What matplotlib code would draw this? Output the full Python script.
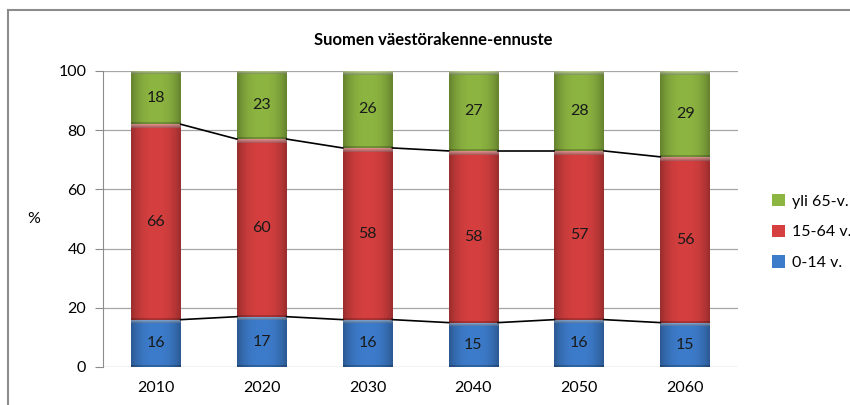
import numpy as np
import matplotlib
matplotlib.use("Agg")
import matplotlib.pyplot as plt
from matplotlib.lines import Line2D
from matplotlib.colors import to_rgb

years = ["2010", "2020", "2030", "2040", "2050", "2060"]
age_0_14 = [16, 17, 16, 15, 16, 15]
age_15_64 = [66, 60, 58, 58, 57, 56]
age_65 = [18, 23, 26, 27, 28, 29]
series_names = ["0-14 v.", "15-64 v.", "yli 65-v."]
colors = ["#3D7CCB", "#D53F3F", "#8DB541"]

plt.rcParams['font.family'] = ['Lato', 'DejaVu Sans']

fig = plt.figure(figsize=(8.5, 4.05), dpi=100)
ax = fig.add_axes([103/850, 1-367/405, (738-103)/850, (367-71)/405])
px_per_unit = (367 - 71) / 100.0

x = np.arange(len(years))
width = 0.47
series = [age_0_14, age_15_64, age_65]
bottoms = np.zeros(len(years))
handles = []
for vals, col, name in zip(series, colors, series_names):
    bars = ax.bar(x, vals, width, bottom=bottoms, color=col, edgecolor="none",
                  label=name, zorder=3)
    handles.append(bars)
    base = np.array(to_rgb(col))
    n = 64
    prof = np.linspace(-1, 1, n)
    shade = 1.0 - 0.28 * np.abs(prof) ** 2.5
    row = np.clip(base[None, :] * shade[:, None], 0, 1)
    for b in bars:
        x0, y0 = b.get_x(), b.get_y()
        w, h = b.get_width(), b.get_height()
        top = min(y0 + h, 100)
        nrows = max(int(round((top - y0) * px_per_unit)), 6)
        img = np.repeat(row[None, :, :], nrows, axis=0)
        img[:4] = np.clip(img[:4] * 0.55 + 0.45 * np.linspace(0.9, 0.5, 4)[:, None, None]
                          + 0.0, 0, 1)
        img[-2:] = img[-2:] * 0.8
        im = ax.imshow(img, extent=[x0, x0 + w, y0, top], aspect="auto",
                       zorder=3.5, interpolation="bilinear")
        im.set_clip_path(b)
    for xi, v, bt in zip(x, vals, bottoms):
        ax.text(xi, bt + min(v, 100 - bt) / 2, str(v), ha="center", va="center",
                fontsize=11.5, color="#1a1a1a", zorder=5)
    bottoms = bottoms + np.array(vals)

# series lines
cum1 = np.array(age_0_14)
cum2 = np.array(age_0_14) + np.array(age_15_64)
for cum in (cum1, cum2):
    for i in range(len(years) - 1):
        ax.plot([x[i] + width / 2, x[i + 1] - width / 2], [cum[i], cum[i + 1]],
                color="black", lw=1.2, zorder=4)

ax.set_xlim(-0.5, len(years) - 0.5)
ax.set_ylim(0, 100)
ax.set_yticks([0, 20, 40, 60, 80, 100])
ax.set_xticks(x)
ax.set_xticklabels(years)
ax.yaxis.grid(True, color="#a6a6a6", lw=0.9, zorder=0)
ax.set_axisbelow(True)
for s in ["top", "right", "bottom"]:
    ax.spines[s].set_visible(False)
ax.spines["left"].set_color("#8c8c8c")
ax.tick_params(axis="y", length=6, color="#8c8c8c", labelsize=11.5, pad=6)
ax.tick_params(axis="x", length=0, labelsize=11.5, pad=10)
ax.set_ylabel("%", rotation=0, fontsize=11.5, labelpad=18, va="center")

fig.text(433/850, 1-40/405, "Suomen väestörakenne-ennuste", ha="center", va="center",
         fontsize=12, fontweight="bold")

leg_handles = [handles[2], handles[1], handles[0]]
leg = fig.legend(leg_handles, [series_names[2], series_names[1], series_names[0]],
                 loc="center left", bbox_to_anchor=(758/850, 1-232/405), frameon=False,
                 fontsize=11.5, handlelength=0.8, handleheight=0.8, labelspacing=1.0,
                 handletextpad=0.4)

# outer chart frame
fig.add_artist(Line2D([8/850, 1], [1-10/405, 1-10/405], transform=fig.transFigure,
                      color="#8c8c8c", lw=1.5))
fig.add_artist(Line2D([8/850, 8/850], [0, 1-10/405], transform=fig.transFigure,
                      color="#8c8c8c", lw=1.5))

fig.savefig("out.png", dpi=100)
